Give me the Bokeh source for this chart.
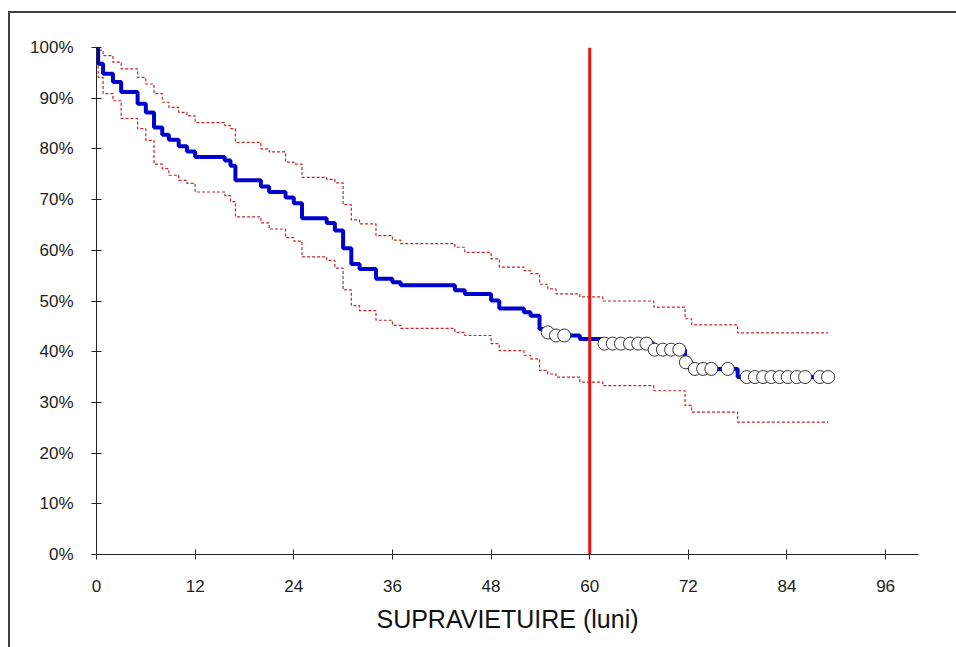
import numpy as np
from bokeh.plotting import figure
from bokeh.layouts import column
from bokeh.models import Span, FixedTicker, NumeralTickFormatter, Range1d, Div
from bokeh.embed import file_html
from bokeh.resources import INLINE

# ---- data ----
event_months = [0.2, 0.8, 2.0, 3.0, 5.0, 6.0, 7.0, 8.0, 8.8, 10.0, 11.0, 12.0,
                15.6, 16.3, 16.9, 20.0, 21.0, 23.0, 24.0, 25.0, 28.0, 29.0, 30.0,
                31.0, 32.0, 34.0, 36.0, 37.0, 43.6, 44.8, 48.0, 49.0, 52.0,
                52.8, 53.9, 54.9, 55.9, 58.8, 61.6, 67.8, 71.6, 72.4, 78.0]
survival = [96.8, 94.8, 93.2, 91.2, 88.9, 87.2, 84.2, 82.8, 81.8, 80.5, 79.5, 78.4,
            77.7, 76.7, 73.8, 72.6, 71.5, 70.4, 69.3, 66.3, 65.4, 63.9, 60.4,
            57.3, 56.3, 54.4, 53.7, 53.1, 52.1, 51.4, 50.1, 48.5, 47.8,
            47.1, 44.5, 43.8, 43.2, 42.5, 41.6, 40.4, 37.9, 36.6, 35.0]
lower_ci = [94.1, 90.9, 89.5, 86.0, 84.0, 81.7, 77.0, 76.1, 74.8, 73.8, 73.2, 71.5,
            70.8, 69.6, 66.6, 65.4, 64.2, 62.5, 61.8, 58.7, 58.0, 56.5, 52.2,
            49.1, 48.1, 46.2, 45.2, 44.6, 43.8, 43.2, 41.6, 40.2, 39.3,
            38.6, 36.3, 35.6, 35.0, 34.0, 33.3, 32.3, 29.4, 28.1, 26.1]
upper_ci = [99.5, 98.4, 97.1, 95.8, 94.1, 92.8, 90.9, 89.2, 88.2, 87.2, 86.5, 85.2,
            84.6, 84.0, 81.3, 80.0, 79.4, 77.4, 77.0, 74.4, 74.0, 73.3, 69.0,
            66.0, 65.2, 62.9, 62.0, 61.3, 60.6, 59.6, 58.3, 56.7, 56.0,
            55.4, 53.3, 52.4, 51.4, 50.8, 50.0, 48.8, 46.5, 45.3, 43.7]
censored_months = [54.9, 55.9, 56.9, 61.8, 62.8, 63.8, 64.9, 65.9, 66.9, 67.9,
                   68.9, 69.9, 70.9, 71.7, 72.8, 73.8, 74.8, 76.8, 79.1, 80.1,
                   81.1, 82.1, 83.1, 84.1, 85.2, 86.2, 88.0, 89.0]
end_month = 89.0
cutoff_month = 60
x_ticks = [0, 12, 24, 36, 48, 60, 72, 84, 96]
y_ticks = [0.0, 0.1, 0.2, 0.3, 0.4, 0.5, 0.6, 0.7, 0.8, 0.9, 1.0]
x_label = "SUPRAVIETUIRE (luni)"


def step_xy(times, vals, t_end, start=100.0):
    xs, ys = [0.0], [start / 100.0]
    for t, v in zip(times, vals):
        xs += [t, t]
        ys += [ys[-1], v / 100.0]
    xs.append(t_end)
    ys.append(ys[-1])
    return xs, ys


def km_at(t):
    idx = np.searchsorted(np.array(event_months), t, side="right")
    return 1.0 if idx == 0 else survival[idx - 1] / 100.0


FONT = "Liberation Sans"

p = figure(width=940, height=639, output_backend="svg", toolbar_location=None,
           x_range=Range1d(0, 100), y_range=Range1d(0, 1),
           min_border_left=96, min_border_top=47, min_border_right=22,
           min_border_bottom=85)
p.outline_line_color = None
p.xgrid.visible = False
p.ygrid.visible = False
p.background_fill_color = "white"
p.border_fill_color = "white"

# confidence bands (dashed red)
for arr in (upper_ci, lower_ci):
    xs, ys = step_xy(event_months, arr, end_month)
    p.line(xs, ys, line_color="#c02828", line_width=1.2, line_dash="3 2")

# Kaplan-Meier curve
xs, ys = step_xy(event_months, survival, end_month)
p.line(xs, ys, line_color="#0000cc", line_width=4)

# censored observations
p.scatter(censored_months, [km_at(t) for t in censored_months], size=13,
          marker="circle", fill_color="white", line_color="#333333", line_width=1)

# 60-month reference line
p.add_layout(Span(location=cutoff_month, dimension="height", line_color="#ee1111",
                  line_width=3))

# axes
for ax in (p.xaxis[0], p.yaxis[0]):
    ax.axis_line_color = "#222222"
    ax.major_tick_line_color = "#222222"
    ax.major_tick_in = 5
    ax.major_tick_out = 5
    ax.minor_tick_line_color = None
    ax.major_label_text_font = FONT
    ax.major_label_text_font_size = "17px"
    ax.major_label_text_color = "#222222"

p.xaxis.ticker = FixedTicker(ticks=x_ticks)
p.yaxis.ticker = FixedTicker(ticks=y_ticks)
p.yaxis.formatter = NumeralTickFormatter(format="0%")
p.xaxis.major_label_standoff = 20
p.yaxis.major_label_standoff = 18
p.xaxis.axis_label = x_label
p.xaxis.axis_label_text_font = FONT
p.xaxis.axis_label_text_font_size = "25px"
p.xaxis.axis_label_text_font_style = "normal"
p.xaxis.axis_label_text_color = "#111111"
p.xaxis.axis_label_standoff = 10

# outer frame of the original picture (only its left and top edges are in view)
frame_edge = Div(width=1, height=1, text=(
    '<div style="position:fixed;left:8px;top:11px;width:3000px;height:3000px;'
    'border-left:2px solid #404040;border-top:2px solid #404040;'
    'pointer-events:none;"></div>'))

layout = column(p, frame_edge)

open("out.html", "w").write(file_html(layout, INLINE))
